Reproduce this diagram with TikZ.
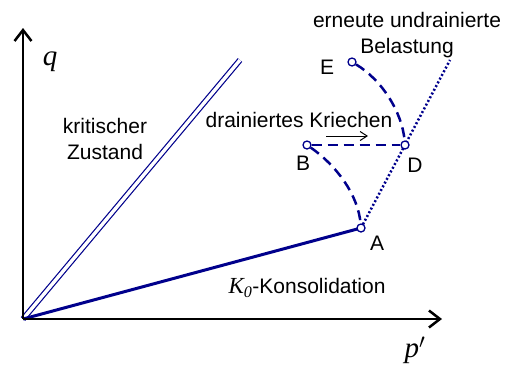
\documentclass[tikz,border=0pt]{standalone}
\usepackage{fontspec}
\setmainfont{Liberation Sans}
\newfontfamily\serifit{Liberation Serif}
\usetikzlibrary{arrows.meta}
\definecolor{navy}{RGB}{0,0,140}
\begin{document}
\begin{tikzpicture}[x=1pt,y=-1pt,
  lbl/.style={font=\fontsize{21}{25.5}\selectfont, inner sep=0pt},
  axis/.style={line width=2.5pt, -{Straight Barb[length=11pt,width=17pt,line width=2.5pt]}},
  pt/.style={circle, draw=navy, fill=white, line width=1.3pt, minimum size=8pt, inner sep=0pt},
  path/.style={navy, line width=2.5pt, dash pattern=on 10pt off 6pt},
  dotline/.style={navy, line width=2.5pt, dash pattern=on 2pt off 2.2pt}]
\useasboundingbox (0,0) rectangle (510,365);
\coordinate (O) at (23,319);
\coordinate (ytip) at (23,28);
\coordinate (xtip) at (442,319);
\coordinate (cs) at (240,60);
\coordinate (U) at (450,60);
% critical state line (double)
\draw[navy, line width=1.2pt, double=white, double distance=3.4pt] (O) -- (cs);
% K0 line
\draw[navy, line width=3pt] (O) -- (361,228) coordinate (Ac);
% dotted undrained path
\draw[dotline] (Ac) -- (U);
% axes
\draw[axis] (O) -- (ytip);
\draw[axis] (O) -- (xtip);
% points
\node[pt] (A) at (361,228) {};
\node[pt] (B) at (307,145) {};
\node[pt] (D) at (405,145) {};
\node[pt] (E) at (352,62) {};
% dashed paths
\draw[path] (B) .. controls (337,166) and (358,195) .. (A);
\draw[path] (B) -- (D);
\draw[path] (E) .. controls (382,80) and (402,112) .. (D);
% arrow
\coordinate (a1) at (326,136);
\coordinate (a2) at (368,136);
\draw[line width=1pt, -{Straight Barb[length=7pt,width=9pt,line width=1pt]}] (a1) -- (a2);
% labels
\node[lbl] (lA) at (377,243) {A};
\node[lbl] (lB) at (303,163) {B};
\node[lbl] (lD) at (415,165) {D};
\node[lbl] (lE) at (327,67) {E};
\node[lbl, align=center] (ul) at (407,35) {erneute undrainierte\\Belastung};
\node[lbl, align=center] (ks) at (105,139) {kritischer\\Zustand};
\node[lbl] (dk) at (299,120) {drainiertes Kriechen};
\node[lbl] (k0) at (307,288) {{\serifit\fontsize{23}{25}\selectfont\itshape K\textsubscript{0}}-Konsolidation};
\node[inner sep=0pt, font=\serifit\fontsize{29}{30}\selectfont\itshape] (q) at (50,62) {q};
\node[inner sep=0pt, font=\serifit\fontsize{29}{30}\selectfont\itshape] (p) at (415,350) {p$'$};
\end{tikzpicture}
\end{document}
